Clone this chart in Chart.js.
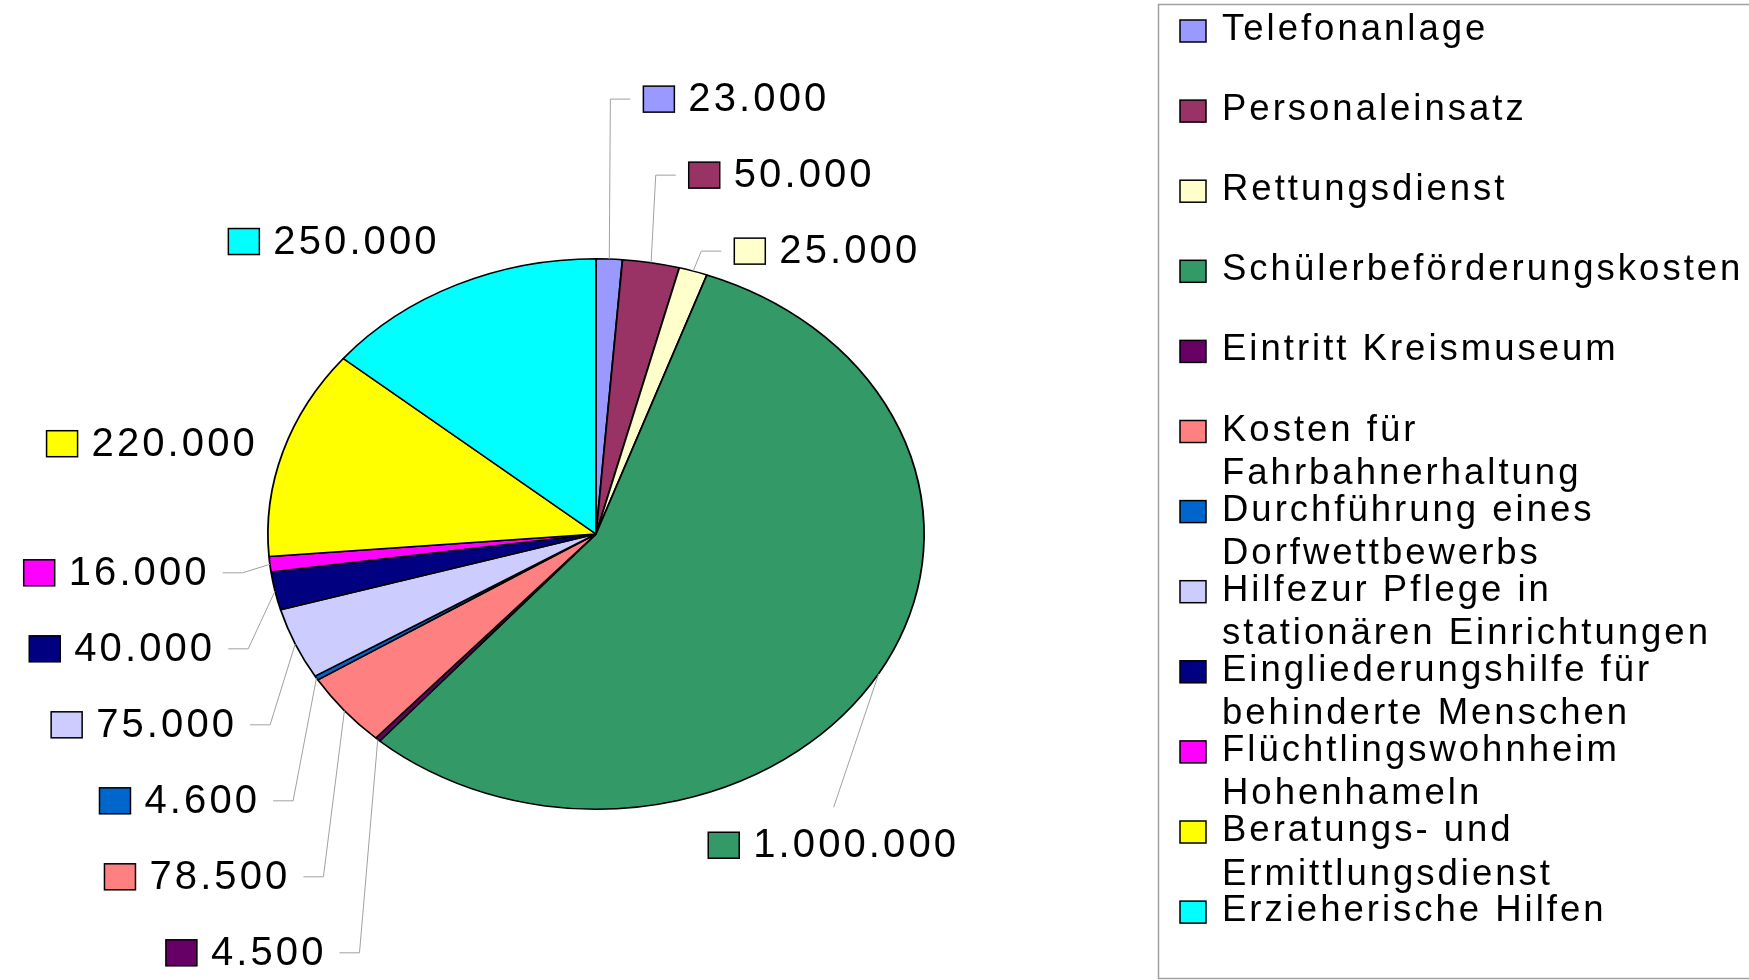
<!DOCTYPE html>
<html>
<head>
<meta charset="utf-8">
<script src="https://cdn.jsdelivr.net/npm/chart.js@4.4.1/dist/chart.umd.min.js"></script>
<style>
html,body{margin:0;padding:0;background:#fff;overflow:hidden;}
#wrap{width:1749px;height:980px;position:relative;}
canvas{display:block;}
</style>
</head>
<body>
<div id="wrap"><canvas id="c" width="1749" height="980"></canvas></div>
<script>
// ---- data ----
const categories = [
  'Telefonanlage',
  'Personaleinsatz',
  'Rettungsdienst',
  'Schülerbeförderungskosten',
  'Eintritt Kreismuseum',
  'Kosten für Fahrbahnerhaltung',
  'Durchführung eines Dorfwettbewerbs',
  'Hilfezur Pflege in stationären Einrichtungen',
  'Eingliederungshilfe für behinderte Menschen',
  'Flüchtlingswohnheim Hohenhameln',
  'Beratungs- und Ermittlungsdienst',
  'Erzieherische Hilfen'
];
const values = [23000, 50000, 25000, 1000000, 4500, 78500, 4600, 75000, 40000, 16000, 220000, 250000];
const colors = ['#9999FF', '#993366', '#FFFFCC', '#339966', '#660066', '#FF8080',
                '#0066CC', '#CCCCFF', '#000080', '#FF00FF', '#FFFF00', '#00FFFF'];

// ---- style / layout ----
const SX = 1.192;                 // horizontal stretch of the pie (ellipse)
const FONT_FAMILY = '"Liberation Sans", Arial, sans-serif';
const LABEL_FONT = '40px ' + FONT_FAMILY;
const LEGEND_FONT = '36.5px ' + FONT_FAMILY;
const LABEL_SPACING = '3.1px';
const LEGEND_SPACING = '3px';
const LEADER_COLOR = '#a0a0a0';

function fmt(v) { return String(v).replace(/\B(?=(\d{3})+(?!\d))/g, '.'); }

const ellipsePlugin = {
  id: 'ellipse',
  beforeDatasetsDraw(chart) {
    const a = chart.getDatasetMeta(0).data[0];
    const c = chart.ctx;
    c.save();
    c.translate(a.x, 0);
    c.scale(SX, 1);
    c.translate(-a.x, 0);
  },
  afterDatasetsDraw(chart) { chart.ctx.restore(); }
};

const labelPlugin = {
  id: 'sliceLabels',
  afterDraw(chart) {
    const ctx = chart.ctx;
    const arcs = chart.getDatasetMeta(0).data;
    const cx = arcs[0].x, cy = arcs[0].y, R = arcs[0].outerRadius;
    ctx.save();
    ctx.font = LABEL_FONT;
    ctx.letterSpacing = LABEL_SPACING;
    const H = 40, SW = 31, SH = 26, SG = 14, EXT = 23, STEP = 76, ARM = 20, GAP = 13;
    const maxX = 1148;
    const items = arcs.map((a, i) => {
      const mid = (a.startAngle + a.endAngle) / 2;
      const c = Math.cos(mid), s = Math.sin(mid);
      const text = fmt(values[i]);
      const w = SW + SG + ctx.measureText(text).width;
      return {
        i, c, s, text, w,
        ax: cx + c * R * SX, ay: cy + s * R,
        px: cx + c * (R + EXT) * SX, py: cy + s * (R + EXT),
        right: c >= 0, chain: false
      };
    });
    items.forEach(it => { it.y = it.py + it.s * 36 + 10; it.above = it.py < cy; });
    // detect and resolve collisions per side / half
    [true, false].forEach(right => {
      [true, false].forEach(above => {
        const g = items.filter(it => it.right === right && it.above === above).sort((a, b) => a.y - b.y);
        for (let k = 1; k < g.length; k++) {
          if (g[k].y - g[k - 1].y < STEP) { g[k].chain = true; g[k - 1].chain = true; }
        }
        const ch = g.filter(it => it.chain);
        ch.forEach(it => it.y = it.py + (above ? 2 : 6));
        if (above) {
          ch.sort((a, b) => b.y - a.y);
          for (let k = 1; k < ch.length; k++) ch[k].y = Math.min(ch[k].y, ch[k - 1].y - STEP);
        } else {
          ch.sort((a, b) => a.y - b.y);
          for (let k = 1; k < ch.length; k++) ch[k].y = Math.max(ch[k].y, ch[k - 1].y + STEP);
        }
      });
    });
    ctx.strokeStyle = LEADER_COLOR;
    ctx.lineWidth = 1;
    items.forEach(it => {
      let bx;
      if (it.chain) {
        ctx.beginPath();
        ctx.moveTo(it.ax, it.ay);
        ctx.lineTo(it.px, it.y);
        if (it.right) { ctx.lineTo(it.px + ARM, it.y); bx = it.px + ARM + GAP; }
        else { ctx.lineTo(it.px - ARM, it.y); bx = it.px - ARM - GAP - it.w; }
        ctx.stroke();
      } else if (!it.right) {
        bx = it.px - it.w + 4 + 10 * it.s;
      } else {
        bx = it.px;
        if (bx + it.w > maxX) {
          bx = cx + R * SX + 35 - it.w;
          it.y = cy + R + 16 + H / 2;
          ctx.beginPath();
          ctx.moveTo(it.ax, it.ay);
          ctx.lineTo(bx + it.w / 2, it.y - H / 2 - 18);
          ctx.stroke();
        }
      }
      it.bx = bx;
    });
    items.forEach(it => {
      ctx.fillStyle = colors[it.i];
      ctx.fillRect(it.bx, it.y - SH / 2, SW, SH);
      ctx.strokeStyle = '#000';
      ctx.lineWidth = 1.5;
      ctx.strokeRect(it.bx, it.y - SH / 2, SW, SH);
      ctx.fillStyle = '#000';
      ctx.textBaseline = 'middle';
      ctx.textAlign = 'left';
      ctx.fillText(it.text, it.bx + SW + SG, it.y + 1);
    });
    ctx.restore();
  }
};

const legendPlugin = {
  id: 'boxLegend',
  afterDraw(chart) {
    const ctx = chart.ctx;
    ctx.save();
    const LX = 1158.5, LY = 4.5, LB = 978.5;
    ctx.strokeStyle = '#a0a0a0';
    ctx.lineWidth = 1.5;
    ctx.strokeRect(LX, LY, 700, LB - LY);
    ctx.font = LEGEND_FONT;
    ctx.letterSpacing = LEGEND_SPACING;
    ctx.textBaseline = 'middle';
    ctx.textAlign = 'left';
    const wrapW = 500, y0 = 29, stepY = 80.1, lineH = 43.5;
    categories.forEach((name, i) => {
      const words = name.split(' ');
      const lines = [];
      let cur = '';
      words.forEach(w => {
        const t = cur ? cur + ' ' + w : w;
        if (cur && ctx.measureText(t).width > wrapW) { lines.push(cur); cur = w; }
        else cur = t;
      });
      if (cur) lines.push(cur);
      const y = y0 + i * stepY;
      ctx.fillStyle = colors[i];
      ctx.fillRect(1180, y - 9, 26, 22);
      ctx.strokeStyle = '#000';
      ctx.lineWidth = 1.5;
      ctx.strokeRect(1180, y - 9, 26, 22);
      ctx.fillStyle = '#000';
      lines.forEach((ln, k) => ctx.fillText(ln, 1222, y + 1 + k * lineH));
    });
    ctx.restore();
  }
};

new Chart(document.getElementById('c').getContext('2d'), {
  type: 'pie',
  data: {
    labels: categories,
    datasets: [{
      data: values,
      backgroundColor: colors,
      borderColor: '#000',
      borderWidth: 1.5,
      clip: false
    }]
  },
  options: {
    responsive: false,
    animation: false,
    events: [],
    layout: { padding: { left: 320, right: 877, top: 257, bottom: 169 } },
    plugins: { legend: { display: false }, tooltip: { enabled: false } }
  },
  plugins: [ellipsePlugin, labelPlugin, legendPlugin]
});
</script>
</body>
</html>
